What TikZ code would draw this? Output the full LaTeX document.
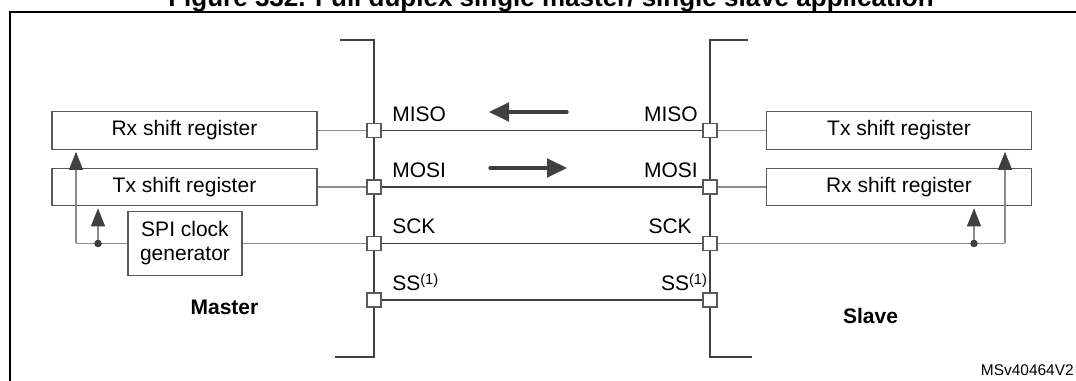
\documentclass[tikz,border=0pt]{standalone}
\usepackage{fontspec}
\setmainfont{Liberation Sans}
\usetikzlibrary{arrows.meta}
\definecolor{dk}{HTML}{404040}
\definecolor{wirec}{HTML}{8C8C8C}
\definecolor{boxc}{HTML}{5A5A5A}
\begin{document}
\begin{tikzpicture}[x=0.75pt,y=-0.75pt,
  font=\fontsize{15.75}{18}\selectfont,
  regbox/.style={draw=boxc,line width=0.9pt,fill=white,minimum width=198.75pt,minimum height=28.1pt,inner sep=0pt},
  clkbox/.style={draw=boxc,line width=0.9pt,fill=white,minimum width=85.5pt,minimum height=48pt,inner sep=0pt,align=center},
  pinbox/.style={draw=boxc,line width=0.8pt,fill=white,minimum size=10.5pt,inner sep=0pt},
  wire/.style={draw=wirec,line width=0.8pt},
  sig/.style={draw=dk,line width=1.3pt},
  bus/.style={draw=dk,line width=1.6pt},
  clkarrow/.style={wire,shorten >=1.5pt,-{Triangle[color=dk,length=13.5pt,width=10.5pt]}},
  dirarrow/.style={draw=dk,line width=2.6pt,line cap=round,-{Triangle[length=15pt,width=14pt]}},
  lbl/.style={inner sep=0pt},
  dot/.style={circle,fill=dk,inner sep=0pt,minimum size=5.5pt}
]
\useasboundingbox (0,0) rectangle (1076,381);
% title and frame
\node[lbl,font=\bfseries\fontsize{19.5}{22}\selectfont,anchor=base] (title) at (551,7) {Figure 332. Full duplex single master/ single slave application};
\draw[line width=1.8pt] (10,395) -- (10,12) -- (1090,12);
% buses
\draw[bus] (340,40) -- (374,40) -- (374,357) -- (335,357);
\draw[bus] (748,40) -- (710,40) -- (710,357) -- (752,357);
% master blocks
\node[regbox] (rxM) at (184.5,130.5) {Rx shift register};
\node[regbox] (txM) at (184.5,187) {Tx shift register};
\node[clkbox] (clk) at (185,243.5) {SPI clock\\generator};
% slave blocks
\node[regbox] (txS) at (899,130.5) {Tx shift register};
\node[regbox] (rxS) at (899,187) {Rx shift register};
% signal lines between pins
\coordinate (pL1) at (374,130.5); \coordinate (pR1) at (710,130.5);
\coordinate (pL2) at (374,187);   \coordinate (pR2) at (710,187);
\coordinate (pL3) at (374,243.5); \coordinate (pR3) at (710,243.5);
\coordinate (pL4) at (374,300);   \coordinate (pR4) at (710,300);
\draw[sig] (pL1) -- (pR1);
\draw[sig] (pL2) -- (pR2);
\draw[sig] (pL3) -- (pR3);
\draw[sig] (pL4) -- (pR4);
% wires from blocks to pins
\draw[wire] (rxM.east) -- (pL1);
\draw[wire] (txM.east) -- (pL2);
\draw[wire] (clk.east) -- (pL3);
\draw[wire] (pR1) -- (txS.west);
\draw[wire] (pR2) -- (rxS.west);
% pins
\node[pinbox] (mL1) at (pL1) {}; \node[pinbox] (sR1) at (pR1) {};
\node[pinbox] (mL2) at (pL2) {}; \node[pinbox] (sR2) at (pR2) {};
\node[pinbox] (mL3) at (pL3) {}; \node[pinbox] (sR3) at (pR3) {};
\node[pinbox] (mL4) at (pL4) {}; \node[pinbox] (sR4) at (pR4) {};
% master clock distribution
\coordinate (cornM) at (76,243.5);
\node[dot] (dotM) at (98,243.5) {};
\draw[wire] (clk.west) -- (cornM);
\draw[clkarrow] (cornM) -- (cornM |- rxM.south);
\draw[clkarrow] (dotM.center) -- (dotM |- txM.south);
\node[dot] at (dotM) {};
% slave clock distribution
\coordinate (cornS) at (1005,243.5);
\node[dot] (dotS) at (974,243.5) {};
\draw[wire] (mL3.east -| sR3.east) -- (cornS);
\draw[clkarrow] (cornS) -- (cornS |- txS.south);
\draw[clkarrow] (dotS.center) -- (dotS |- rxS.south);
\node[dot] at (dotS) {};
% labels
\node[lbl,anchor=base west] (lMISO) at (392,122) {MISO};
\node[lbl,anchor=base west] (lMOSI) at (392,178) {MOSI};
\node[lbl,anchor=base west] (lSCK) at (392,234) {SCK};
\node[lbl,anchor=base west] (lSS) at (392,291) {SS\textsuperscript{(1)}};
\node[lbl,anchor=base east] (rMISO) at (698,122) {MISO};
\node[lbl,anchor=base east] (rMOSI) at (698,178) {MOSI};
\node[lbl,anchor=base east] (rSCK) at (692,234) {SCK};
\node[lbl,anchor=base east] (rSS) at (708,291) {SS\textsuperscript{(1)}};
% direction arrows
\coordinate (a1s) at (567,112); \coordinate (a1e) at (489,112);
\coordinate (a2s) at (490,168); \coordinate (a2e) at (567,168);
\draw[dirarrow] (a1s) -- (a1e);
\draw[dirarrow] (a2s) -- (a2e);
% side labels
\node[lbl,anchor=base,font=\bfseries\fontsize{15.75}{18}\selectfont] (master) at (224.5,315) {Master};
\node[lbl,anchor=base,font=\bfseries\fontsize{15.75}{18}\selectfont] (slave) at (870.5,324) {Slave};
\node[lbl,anchor=base east,font=\fontsize{11.6}{14}\selectfont] (code) at (1074,376) {MSv40464V2};
\end{tikzpicture}
\end{document}
